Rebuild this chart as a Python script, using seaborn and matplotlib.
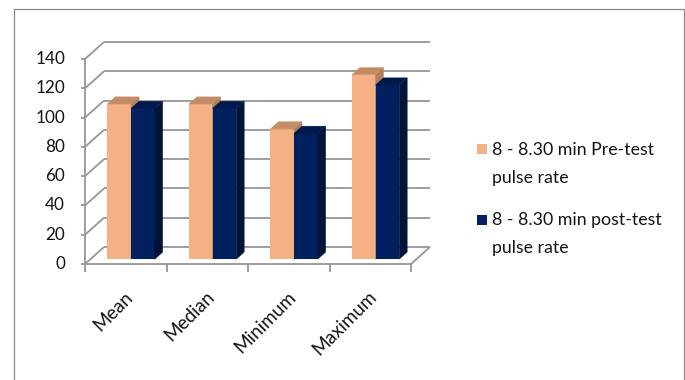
import numpy as np
import pandas as pd
import matplotlib
matplotlib.use("Agg")
import matplotlib.pyplot as plt
import seaborn as sns
from matplotlib.patches import Polygon, Rectangle
from matplotlib.transforms import offset_copy

# ---- data ----
categories = ["Mean", "Median", "Minimum", "Maximum"]
pre_test = [106, 106, 89, 126]
post_test = [103, 103, 86, 119]
series_labels = ["8 - 8.30 min Pre-test\npulse rate",
                 "8 - 8.30 min post-test\npulse rate"]
y_ticks = [0, 20, 40, 60, 80, 100, 120, 140]

# ---- styling ----
front_colors = ["#F4B183", "#002060"]
top_colors = ["#C38B66", "#00194D"]
side_colors = ["#B57E5A", "#001338"]
grid_color = "#969696"
text_color = "#141414"

W, H = 685, 380
sns.set_theme(style="white")
plt.rcParams["font.family"] = ["Lato", "DejaVu Sans"]

fig = plt.figure(figsize=(W / 100, H / 100), dpi=100)

# front plane of the plot box, in pixels
left_px, right_px, top_px, bottom_px = 85, 411, 59, 264
ax = fig.add_axes([left_px / W, 1 - bottom_px / H,
                   (right_px - left_px) / W, (bottom_px - top_px) / H])

df = pd.DataFrame({
    "category": categories * 2,
    "value": pre_test + post_test,
    "series": [series_labels[0]] * len(categories) + [series_labels[1]] * len(categories),
})
sns.barplot(data=df, x="category", y="value", hue="series",
            palette=front_colors, width=0.58, gap=0, saturation=1,
            errorbar=None, legend=False, linewidth=0, ax=ax)
ax.set_xlim(-0.5, len(categories) - 0.5)
ax.set_ylim(y_ticks[0], y_ticks[-1])
ax.axis("off")

px_per_cat = (right_px - left_px) / len(categories)
px_per_val = (bottom_px - top_px) / (y_ticks[-1] - y_ticks[0])
DX = 19 / px_per_cat      # box depth, horizontal component (category units)
DY = 17 / px_per_val      # box depth, vertical component (value units)
x_lo, x_hi = -0.5, len(categories) - 0.5

line_kw = dict(color=grid_color, lw=1.3, clip_on=False, zorder=1,
               solid_capstyle="butt")

# back wall gridlines and side wall diagonals
for v in y_ticks:
    ax.plot([x_lo + DX, x_hi + DX], [v + DY, v + DY], **line_kw)
    ax.plot([x_lo, x_lo + DX], [v, v + DY], **line_kw)
    ax.plot([x_lo - 4 / px_per_cat, x_lo], [v, v], **line_kw)

# value axis and floor edges
ax.plot([x_lo, x_lo], [y_ticks[0], y_ticks[-1]], **line_kw)
ax.plot([x_lo, x_hi], [0, 0], **line_kw)
ax.plot([x_hi, x_hi + DX], [0, DY], **line_kw)
for b in np.arange(x_lo, x_hi + 0.01, 1.0):
    ax.plot([b, b], [0, -8 / px_per_val], **line_kw)

# 3-D bars: shift front faces into the box and add top and side faces
f_front, f_back = 0.28, 0.70
ddx, ddy = (f_back - f_front) * DX, (f_back - f_front) * DY
for s, cont in enumerate(ax.containers):
    for p in cont.patches:
        x0 = p.get_x() + f_front * DX
        y0 = f_front * DY
        w, h = p.get_width(), p.get_height()
        p.set_x(x0)
        p.set_y(y0)
        p.set_clip_on(False)
        p.set_zorder(3 + s)
        top = Polygon([(x0, y0 + h), (x0 + w, y0 + h),
                       (x0 + w + ddx, y0 + h + ddy), (x0 + ddx, y0 + h + ddy)],
                      closed=True, facecolor=top_colors[s], edgecolor=top_colors[s],
                      lw=0.3, zorder=3 + s, clip_on=False)
        side = Polygon([(x0 + w, y0), (x0 + w + ddx, y0 + ddy),
                        (x0 + w + ddx, y0 + h + ddy), (x0 + w, y0 + h)],
                       closed=True, facecolor=side_colors[s], edgecolor=side_colors[s],
                       lw=0.3, zorder=3 + s, clip_on=False)
        ax.add_patch(side)
        ax.add_patch(top)

# tick labels
ylab_tr = offset_copy(ax.transData, fig=fig, x=-20, y=0, units="dots")
for v in y_ticks:
    ax.text(x_lo, v, str(v), transform=ylab_tr, ha="right", va="center",
            fontsize=12.3, color=text_color, clip_on=False)

xlab_tr = offset_copy(ax.transData, fig=fig, x=4, y=-30, units="dots")
for i, c in enumerate(categories):
    ax.text(i, 0, c, transform=xlab_tr, ha="right", va="center",
            rotation=45, rotation_mode="anchor", fontsize=13.6,
            color=text_color, clip_on=False)

# legend
sq = 10
legend_rows = [(148.5, [155.0, 182.7]), (220.0, [225.0, 252.7])]
for s, (sq_cy, baselines) in enumerate(legend_rows):
    fig.add_artist(Rectangle((477 / W, 1 - (sq_cy + sq / 2) / H), sq / W, sq / H,
                             transform=fig.transFigure, facecolor=front_colors[s],
                             edgecolor="none"))
    for line, yb in zip(series_labels[s].split("\n"), baselines):
        fig.text(492 / W, 1 - yb / H, line, ha="left", va="baseline",
                 fontsize=12.8, color=text_color)

# chart area border
fig.add_artist(Rectangle((13.5 / W, -0.1), (683.5 - 13.5) / W, 1.1 - 9.5 / H,
                         transform=fig.transFigure, facecolor="none",
                         edgecolor="#8a8a8a", lw=0.9))

fig.savefig("out.png", dpi=100)
